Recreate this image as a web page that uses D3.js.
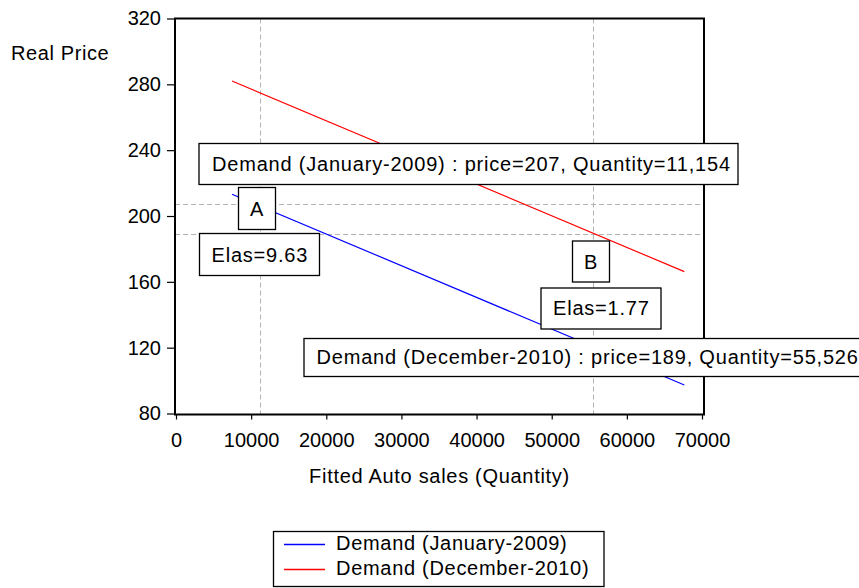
<!DOCTYPE html>
<html>
<head>
<meta charset="utf-8">
<script src="https://cdn.jsdelivr.net/npm/d3@7"></script>
<style>
  html, body { margin: 0; padding: 0; background: #fff; }
  svg { display: block; }
  text { font-family: "Liberation Sans", Arial, sans-serif; fill: #000; }
</style>
</head>
<body>
<svg id="chart" width="859" height="588"></svg>
<script>
// ---- data ----
const quantity = [7450, 67650];              // fitted auto sales (x)
const demandJan2009 = [213.2, 97.3];         // real price, January-2009 demand line
const demandDec2010 = [282.0, 166.2];        // real price, December-2010 demand line
const refQuantity = [11154, 55526];          // vertical reference lines
const refPrice = [207, 189];                 // horizontal reference lines
const xTicks = [0, 10000, 20000, 30000, 40000, 50000, 60000, 70000];
const yTicks = [80, 120, 160, 200, 240, 280, 320];
const seriesNames = ["Demand (January-2009)", "Demand (December-2010)"];
const seriesColors = ["#0000ff", "#ff0000"];
const annotationTexts = [
  "Demand (January-2009) : price=207, Quantity=11,154",
  "A",
  "Elas=9.63",
  "B",
  "Elas=1.77",
  "Demand (December-2010) : price=189, Quantity=55,526"
];

// ---- layout ----
const svg = d3.select("#chart");
const frame = {left: 175, right: 704, top: 18.5, bottom: 414.5};
const x = d3.scaleLinear().domain([0, 70000]).range([176, 702]);
const y = d3.scaleLinear().domain([80, 320]).range([413.5, 18.5]);
const FONT = 20;

// grid (dashed reference lines)
const grid = svg.append("g").attr("stroke", "#b4b4b4").attr("stroke-width", 1)
  .attr("stroke-dasharray", "5,3");
refQuantity.forEach(q => {
  grid.append("line").attr("x1", Math.round(x(q)) + 0.5).attr("x2", Math.round(x(q)) + 0.5)
    .attr("y1", frame.top).attr("y2", frame.bottom);
});
refPrice.forEach(p => {
  grid.append("line").attr("y1", Math.round(y(p)) + 0.5).attr("y2", Math.round(y(p)) + 0.5)
    .attr("x1", frame.left).attr("x2", frame.right);
});

// series lines
const series = [demandJan2009, demandDec2010];
const line = d3.line().x(d => x(d[0])).y(d => y(d[1]));
series.forEach((vals, i) => {
  svg.append("path")
    .datum(quantity.map((q, j) => [q, vals[j]]))
    .attr("d", line)
    .attr("fill", "none")
    .attr("stroke", seriesColors[i])
    .attr("stroke-width", 1.2);
});

// axes
const yAxis = svg.append("g").attr("transform", `translate(${frame.left},0)`)
  .call(d3.axisLeft(y).tickValues(yTicks).tickSize(8).tickPadding(6).tickFormat(d3.format("d")));
const xAxis = svg.append("g").attr("transform", `translate(0,${frame.bottom})`)
  .call(d3.axisBottom(x).tickValues(xTicks).tickSize(5).tickPadding(13).tickFormat(d3.format("d")));
[xAxis, yAxis].forEach(a => {
  a.select(".domain").remove();
  a.selectAll(".tick line").attr("stroke", "#000").attr("stroke-width", 1.2);
  a.selectAll(".tick text").attr("font-size", FONT).attr("font-family", "Liberation Sans, Arial, sans-serif")
    .attr("fill", "#000");
});

// frame
svg.append("rect")
  .attr("x", frame.left).attr("y", frame.top)
  .attr("width", frame.right - frame.left).attr("height", frame.bottom - frame.top)
  .attr("fill", "none").attr("stroke", "#000").attr("stroke-width", 2);

// axis titles
svg.append("text").attr("x", 11).attr("y", 60).attr("font-size", FONT)
  .attr("letter-spacing", 0.6).text("Real Price");
svg.append("text").attr("x", 439.5).attr("y", 483).attr("font-size", FONT)
  .attr("text-anchor", "middle").attr("letter-spacing", 0.7).text("Fitted Auto sales (Quantity)");

// annotation boxes (pixel placement, like the original's text objects)
const boxLayout = [
  {x: 199, y: 143.5, w: 539, h: 41, tx: 212, ty: 171, anchor: "start"},
  {x: 238.5, y: 187.5, w: 37, h: 42, tx: 257, ty: 215.5, anchor: "middle"},
  {x: 199.5, y: 233.5, w: 120, h: 42, tx: 211.5, ty: 261.5, anchor: "start"},
  {x: 572.5, y: 241, w: 37, h: 41, tx: 591, ty: 269, anchor: "middle"},
  {x: 541, y: 288, w: 120, h: 41, tx: 553, ty: 315, anchor: "start"},
  {x: 304, y: 338.5, w: 580, h: 38, tx: 316.5, ty: 364, anchor: "start"}
];
annotationTexts.forEach((t, i) => {
  const b = boxLayout[i];
  const g = svg.append("g");
  g.append("rect").attr("x", b.x).attr("y", b.y).attr("width", b.w).attr("height", b.h)
    .attr("fill", "#fff").attr("stroke", "#000").attr("stroke-width", 1.3);
  g.append("text").attr("x", b.tx).attr("y", b.ty).attr("font-size", FONT)
    .attr("text-anchor", b.anchor).attr("letter-spacing", 0.8).text(t);
});

// legend
const leg = svg.append("g");
leg.append("rect").attr("x", 273.5).attr("y", 531.5).attr("width", 330.5).attr("height", 55)
  .attr("fill", "#fff").attr("stroke", "#000").attr("stroke-width", 1.3);
seriesNames.forEach((n, i) => {
  const yy = 544.5 + i * 25;
  leg.append("line").attr("x1", 284).attr("x2", 325).attr("y1", yy).attr("y2", yy)
    .attr("stroke", seriesColors[i]).attr("stroke-width", 1.3);
  leg.append("text").attr("x", 336).attr("y", 550 + i * 25).attr("font-size", FONT)
    .attr("letter-spacing", 0.7).text(n);
});
</script>
</body>
</html>
